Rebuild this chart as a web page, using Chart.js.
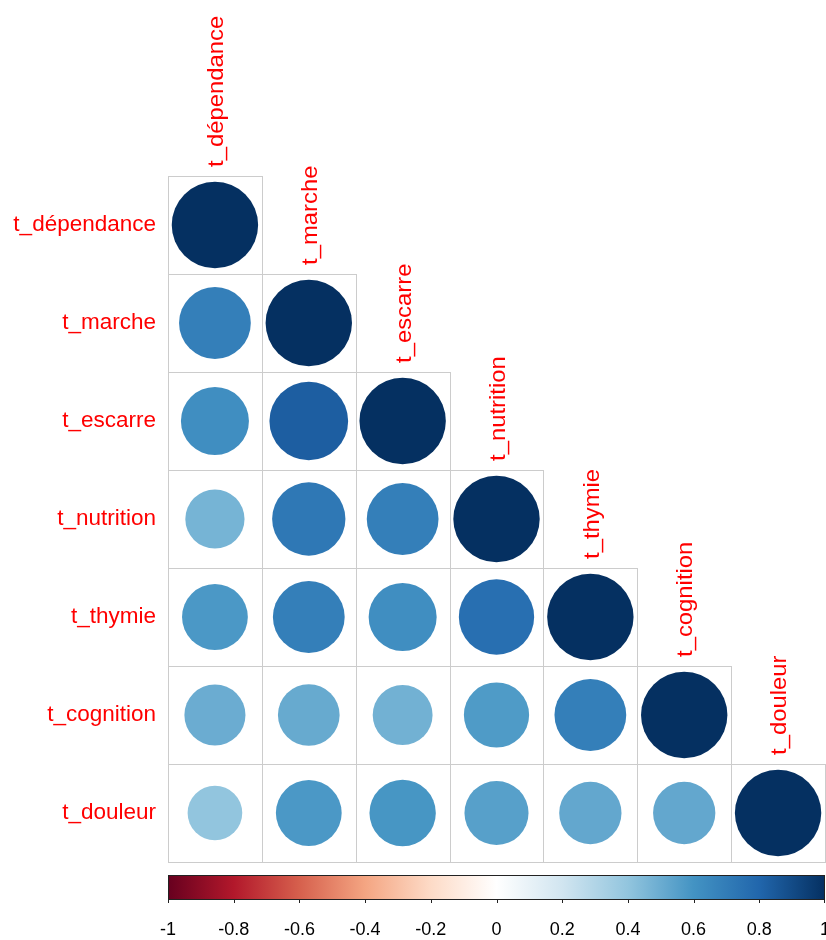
<!DOCTYPE html>
<html>
<head>
<meta charset="utf-8">
<script src="https://cdn.jsdelivr.net/npm/chart.js@4.4.1/dist/chart.umd.min.js"></script>
<style>
  html, body { margin: 0; padding: 0; background: #ffffff; }
  canvas { display: block; }
</style>
</head>
<body>
<canvas id="c" width="826" height="940"></canvas>
<script>
// ---- data (lower triangle of the correlation matrix) ----
const variables = ['t_dépendance', 't_marche', 't_escarre', 't_nutrition', 't_thymie', 't_cognition', 't_douleur'];
const corrDependance = [1];
const corrMarche     = [0.69, 1];
const corrEscarre    = [0.62, 0.83, 1];
const corrNutrition  = [0.47, 0.72, 0.69, 1];
const corrThymie     = [0.58, 0.69, 0.62, 0.76, 1];
const corrCognition  = [0.50, 0.51, 0.48, 0.57, 0.69, 1];
const corrDouleur    = [0.40, 0.58, 0.59, 0.55, 0.52, 0.52, 1];
const colorbarTicks  = [-1, -0.8, -0.6, -0.4, -0.2, 0, 0.2, 0.4, 0.6, 0.8, 1];
const paletteRdBu    = ['#67001F', '#B2182B', '#D6604D', '#F4A582', '#FDDBC7', '#FFFFFF',
                        '#D1E5F0', '#92C5DE', '#4393C3', '#2166AC', '#053061'];

const corrRows = [corrDependance, corrMarche, corrEscarre, corrNutrition, corrThymie, corrCognition, corrDouleur];
const CELL_PX = 96;            // one matrix cell, in pixels (chart area 657 x 686 split into 7)
const points = [];
corrRows.forEach((row, i) => row.forEach((v, j) => points.push({
  x: j, y: i, v: v, r: 0.45 * Math.sqrt(Math.abs(v)) * CELL_PX   // corrplot circle: radius ∝ sqrt(|r|)
})));

function hexToRgb(h) {
  return [parseInt(h.slice(1, 3), 16), parseInt(h.slice(3, 5), 16), parseInt(h.slice(5, 7), 16)];
}
const paletteRgb = paletteRdBu.map(hexToRgb);
function colorFor(v) {
  const t = Math.max(0, Math.min(1, (v + 1) / 2)) * (paletteRgb.length - 1);
  const k = Math.min(paletteRgb.length - 2, Math.floor(t));
  const f = t - k;
  const a = paletteRgb[k], b = paletteRgb[k + 1];
  const c = a.map((x, n) => Math.round(x + (b[n] - x) * f));
  return 'rgb(' + c.join(',') + ')';
}
const pointColors = points.map(p => colorFor(p.v));

const FONT = "'Liberation Sans', Arial, sans-serif";

const cellPlugin = {
  id: 'cells',
  beforeDatasetsDraw(chart) {
    const xs = chart.scales.x, ys = chart.scales.y, ctx = chart.ctx;
    ctx.save();
    ctx.strokeStyle = '#cccccc';
    ctx.lineWidth = 1;
    corrRows.forEach((row, i) => row.forEach((v, j) => {
      const x0 = Math.round(xs.getPixelForValue(j - 0.5)) + 0.5;
      const x1 = Math.round(xs.getPixelForValue(j + 0.5)) - 0.5;
      const y0 = Math.round(ys.getPixelForValue(i - 0.5)) + 0.5;
      const y1 = Math.round(ys.getPixelForValue(i + 0.5)) + 0.5;
      ctx.strokeRect(x0, y0, x1 - x0 + 1, y1 - y0);
    }));
    ctx.restore();
  },
  afterDraw(chart) {
    const xs = chart.scales.x, ys = chart.scales.y, cb = chart.scales.cb, ctx = chart.ctx;
    ctx.save();
    // column labels, rotated, above each diagonal cell
    ctx.fillStyle = '#ff0000';
    ctx.font = '22.5px ' + FONT;
    ctx.textAlign = 'left';
    ctx.textBaseline = 'middle';
    variables.forEach((name, j) => {
      const x = xs.getPixelForValue(j) + 2;
      const y = ys.getPixelForValue(j - 0.5) - 9;
      ctx.save();
      ctx.translate(x, y);
      ctx.rotate(-Math.PI / 2);
      ctx.scale(1.06, 1);
      ctx.fillText(name, 0, 0);
      ctx.restore();
    });
    // colour legend along the cb axis
    const top = cb.top + 13, h = 24;
    const grad = ctx.createLinearGradient(cb.left, 0, cb.right, 0);
    paletteRdBu.forEach((c, k) => grad.addColorStop(k / (paletteRdBu.length - 1), c));
    ctx.fillStyle = grad;
    ctx.fillRect(cb.left, top, cb.right - cb.left, h);
    ctx.strokeStyle = '#222222';
    ctx.lineWidth = 1;
    ctx.strokeRect(Math.round(cb.left) + 0.5, top + 0.5, Math.round(cb.right - cb.left) - 1, h);
    ctx.beginPath();
    cb.ticks.forEach(t => {
      const x = Math.round(cb.getPixelForValue(t.value)) + (t.value >= 1 ? -0.5 : 0.5);
      ctx.moveTo(x, top + h);
      ctx.lineTo(x, top + h + 4);
    });
    ctx.stroke();
    ctx.restore();
  }
};

new Chart(document.getElementById('c'), {
  type: 'bubble',
  data: {
    datasets: [{
      data: points,
      backgroundColor: pointColors,
      borderColor: 'rgba(0,0,0,0)',
      clip: false
    }]
  },
  options: {
    responsive: false,
    devicePixelRatio: 1,
    animation: false,
    events: [],
    layout: { autoPadding: false, padding: { top: 176, right: 1, left: 0, bottom: 0 } },
    plugins: { legend: { display: false }, tooltip: { enabled: false } },
    scales: {
      x: { type: 'linear', min: -0.5, max: 6.5, display: false },
      y: {
        type: 'linear', min: -0.5, max: 6.5, reverse: true, position: 'left',
        grid: { display: false, drawTicks: false },
        border: { display: false },
        afterBuildTicks: axis => { axis.ticks = variables.map((_, i) => ({ value: i })); },
        afterFit: axis => { axis.width = 168; },
        ticks: {
          autoSkip: false,
          padding: 12,
          color: '#ff0000',
          font: { family: FONT, size: 22.5 },
          callback: v => variables[v]
        }
      },
      cb: {
        type: 'linear', position: 'bottom', min: -1, max: 1,
        grid: { display: false, drawTicks: false },
        border: { display: false },
        afterBuildTicks: axis => { axis.ticks = colorbarTicks.map(v => ({ value: v })); },
        afterFit: axis => { axis.height = 78; axis.paddingLeft = 0; axis.paddingRight = 0; },
        ticks: {
          autoSkip: false,
          maxRotation: 0,
          padding: 57,
          color: '#000000',
          font: { family: FONT, size: 18 },
          callback: v => String(Math.round(v * 10) / 10)
        }
      }
    }
  },
  plugins: [cellPlugin]
});
</script>
</body>
</html>
